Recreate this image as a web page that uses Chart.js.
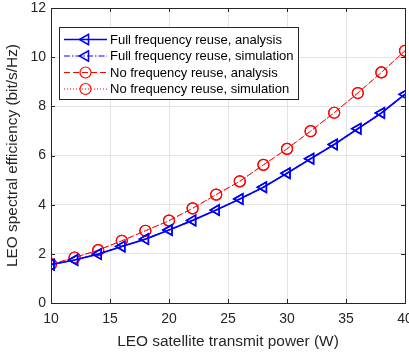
<!DOCTYPE html>
<html><head><meta charset="utf-8">
<script src="https://cdn.jsdelivr.net/npm/chart.js@4.4.1/dist/chart.umd.min.js"></script>
<style>
html,body{margin:0;padding:0;background:#fff;overflow:hidden;width:409px;height:354px;}
#wrap{width:420px;height:354px;position:relative;}
</style></head>
<body><div id="wrap"><canvas id="c" width="420" height="354"></canvas></div>
<script>
const powers = [10,12,14,16,18,20,22,24,26,28,30,32,34,36,38,40];
const fullReuseAnalysis = [1.56,1.75,1.99,2.30,2.60,2.97,3.36,3.78,4.23,4.71,5.28,5.87,6.45,7.09,7.73,8.49];
const fullReuseSimulation = [1.56,1.75,1.99,2.30,2.60,2.97,3.36,3.78,4.23,4.71,5.28,5.87,6.45,7.09,7.73,8.49];
const noReuseAnalysis = [1.58,1.85,2.15,2.53,2.94,3.35,3.85,4.41,4.95,5.62,6.27,6.99,7.74,8.54,9.38,10.26];
const noReuseSimulation = [1.58,1.85,2.15,2.53,2.94,3.35,3.85,4.41,4.95,5.62,6.27,6.99,7.74,8.54,9.38,10.26];
const seriesLabels = ['Full frequency reuse, analysis','Full frequency reuse, simulation','No frequency reuse, analysis','No frequency reuse, simulation'];
const xTicks = [10,15,20,25,30,35,40];
const yTicks = [0,2,4,6,8,10,12];

const FONT = '"Liberation Sans", Arial, sans-serif';
const BLUE = '#0000ff', RED = '#ff0000', AX = '#262626';
function pts(arr){ return powers.map((x,i)=>({x:x,y:arr[i]})); }
const datasets = [
  {label:seriesLabels[0], data:pts(fullReuseAnalysis), borderColor:BLUE, borderWidth:1.7, borderDash:[], pointStyle:'triangle', pointRotation:-90, pointRadius:6, pointBorderWidth:1.5, pointBackgroundColor:'rgba(0,0,0,0)', pointBorderColor:BLUE},
  {label:seriesLabels[1], data:pts(fullReuseSimulation), borderColor:BLUE, borderWidth:1.2, borderDash:[6,2,1.5,2], pointStyle:'triangle', pointRotation:-90, pointRadius:6, pointBorderWidth:1.5, pointBackgroundColor:'rgba(0,0,0,0)', pointBorderColor:BLUE},
  {label:seriesLabels[2], data:pts(noReuseAnalysis), borderColor:RED, borderWidth:1, borderDash:[6,3], pointStyle:'circle', pointRadius:5.5, pointBorderWidth:1.2, pointBackgroundColor:'rgba(0,0,0,0)', pointBorderColor:RED},
  {label:seriesLabels[3], data:pts(noReuseSimulation), borderColor:RED, borderWidth:1, borderDash:[1,2], pointStyle:'circle', pointRadius:5.5, pointBorderWidth:1.2, pointBackgroundColor:'rgba(0,0,0,0)', pointBorderColor:RED}
];
datasets.forEach(d=>{d.fill=false; d.tension=0; d.pointHoverRadius=d.pointRadius;});

function triLeft(ctx,x,y,r){
  // left-pointing triangle matching Chart.js 'triangle' rotated -90
  const s = r*1.5; // approx
  ctx.beginPath();
  ctx.moveTo(x - r, y);
  ctx.lineTo(x + r*0.5, y - r*0.866);
  ctx.lineTo(x + r*0.5, y + r*0.866);
  ctx.closePath();
  ctx.stroke();
}

const boxPlugin = {
  id:'box',
  afterDraw(chart){
    const {ctx, chartArea:a} = chart;
    ctx.save();
    ctx.strokeStyle = AX; ctx.lineWidth = 1;
    ctx.strokeRect(Math.round(a.left)+0.5, Math.round(a.top)+0.5, Math.round(a.right-a.left), Math.round(a.bottom-a.top));
    const xs = chart.scales.x, ys = chart.scales.y;
    ctx.beginPath();
    xTicks.forEach(v=>{const px=Math.round(xs.getPixelForValue(v))+0.5; ctx.moveTo(px,a.bottom); ctx.lineTo(px,a.bottom-4); ctx.moveTo(px,a.top); ctx.lineTo(px,a.top+4);});
    yTicks.forEach(v=>{const py=Math.round(ys.getPixelForValue(v))+0.5; ctx.moveTo(a.left,py); ctx.lineTo(a.left+4,py); ctx.moveTo(a.right,py); ctx.lineTo(a.right-4,py);});
    ctx.stroke();
    // legend
    const L=59, T=27, W=239, H=72;
    ctx.fillStyle='#fff'; ctx.fillRect(L,T,W,H);
    ctx.strokeStyle=AX; ctx.lineWidth=1; ctx.strokeRect(L+0.5,T+0.5,W,H);
    const rows=[39.5,56,72.5,89];
    ctx.font='13px ' + FONT;
    ctx.textBaseline='middle'; ctx.textAlign='left';
    chart.data.datasets.forEach((d,i)=>{
      const y=rows[i];
      ctx.save();
      ctx.strokeStyle=d.borderColor; ctx.lineWidth=d.borderWidth; ctx.setLineDash(d.borderDash||[]);
      ctx.beginPath(); ctx.moveTo(64,y); ctx.lineTo(107,y); ctx.stroke();
      ctx.setLineDash([]);
      ctx.lineWidth=d.pointBorderWidth; ctx.strokeStyle=d.pointBorderColor;
      if(d.pointStyle==='circle'){ ctx.beginPath(); ctx.arc(85.5,y,d.pointRadius,0,Math.PI*2); ctx.stroke(); }
      else { triLeft(ctx,85.5,y,d.pointRadius); }
      ctx.restore();
      ctx.fillStyle='#000';
      ctx.fillText(d.label,110,y+0.5);
    });
    ctx.restore();
  }
};

new Chart(document.getElementById('c'),{
  type:'line',
  data:{datasets:datasets},
  options:{
    responsive:false, animation:false, devicePixelRatio:1,
    layout:{padding:{left:0,right:15,top:8,bottom:0}},
    plugins:{legend:{display:false}, tooltip:{enabled:false}},
    scales:{
      x:{type:'linear', min:10, max:40,
        afterBuildTicks(s){ s.ticks = xTicks.map(v=>({value:v})); },
        afterFit(s){ s.height = 51; s.paddingLeft = 0; s.paddingRight = 0; },
        grid:{color:'#e3e3e3', drawTicks:false},
        border:{display:false},
        ticks:{color:AX, padding:8, font:{size:14, family:FONT}, maxRotation:0},
        title:{display:true, text:'LEO satellite transmit power (W)', color:AX, padding:{top:2,bottom:3}, font:{size:15.4, family:FONT}}
      },
      y:{type:'linear', min:0, max:12,
        afterBuildTicks(s){ s.ticks = yTicks.map(v=>({value:v})); },
        afterFit(s){ s.width = 51; s.paddingTop = 0; s.paddingBottom = 0; },
        grid:{color:'#e3e3e3', drawTicks:false},
        border:{display:false},
        ticks:{color:AX, padding:5, font:{size:14, family:FONT}},
        title:{display:true, text:'LEO spectral efficiency (bit/s/Hz)', color:AX, padding:{top:4,bottom:4}, font:{size:15.4, family:FONT}}
      }
    }
  },
  plugins:[boxPlugin]
});
</script></body></html>
